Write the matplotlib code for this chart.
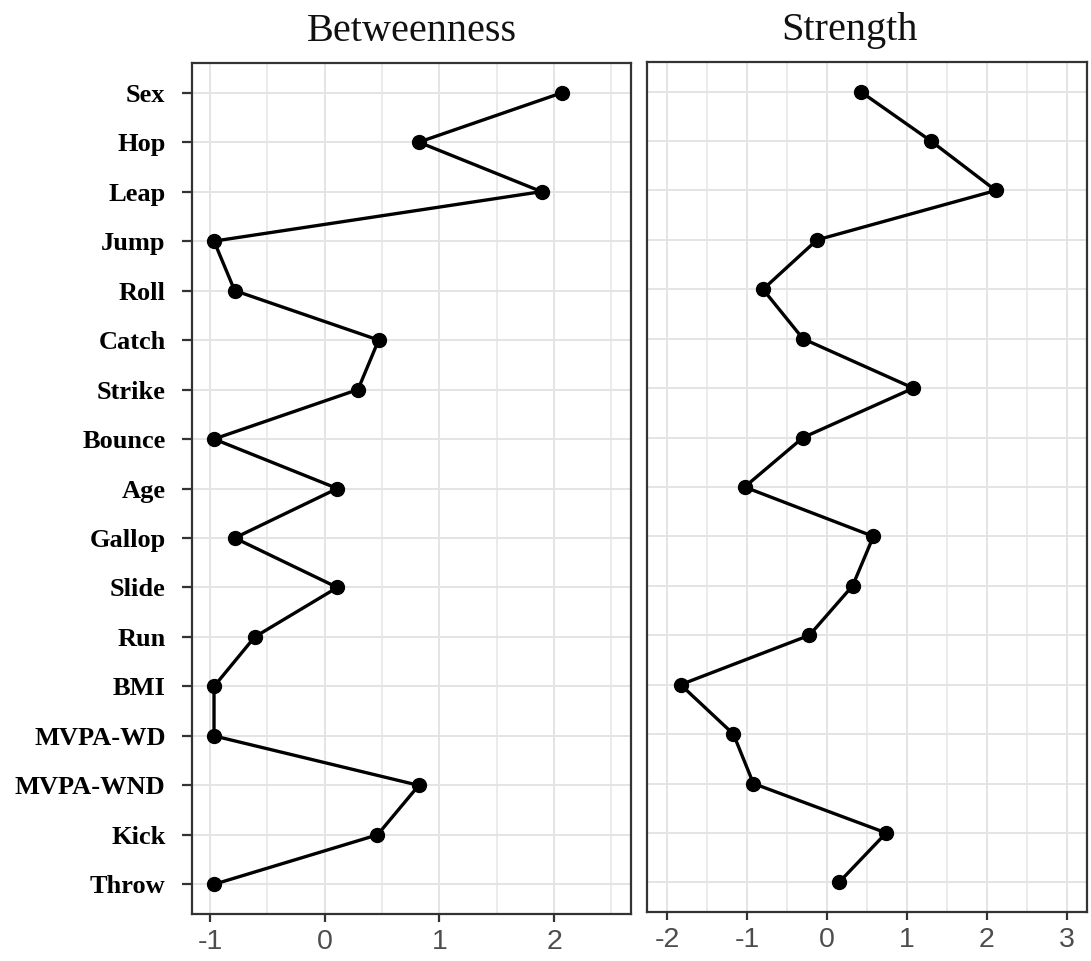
import matplotlib
matplotlib.use("Agg")
import matplotlib.pyplot as plt
from matplotlib.ticker import MultipleLocator

plt.rcParams["axes.unicode_minus"] = False

categories = ["Sex", "Hop", "Leap", "Jump", "Roll", "Catch", "Strike", "Bounce",
              "Age", "Gallop", "Slide", "Run", "BMI", "MVPA-WD", "MVPA-WND",
              "Kick", "Throw"]
betweenness = [2.07, 0.82, 1.89, -0.965, -0.785, 0.47, 0.29, -0.965, 0.11,
               -0.785, 0.11, -0.61, -0.965, -0.965, 0.82, 0.46, -0.965]
strength = [0.42, 1.30, 2.11, -0.125, -0.80, -0.30, 1.08, -0.30, -1.03,
            0.58, 0.32, -0.22, -1.83, -1.17, -0.92, 0.74, 0.15]
titles = ["Betweenness", "Strength"]
xticks_left = [-1, 0, 1, 2]
xticks_right = [-2, -1, 0, 1, 2, 3]

W, H = 1091, 961
fig = plt.figure(figsize=(W / 100, H / 100), dpi=100)

def frac(x0, y0, x1, y1):
    return [x0 / W, 1 - y1 / H, (x1 - x0) / W, (y1 - y0) / H]

ax1 = fig.add_axes(frac(192, 63, 631, 914))
ax2 = fig.add_axes(frac(647, 62, 1087, 912))

n = len(categories)
ypos = list(range(n, 0, -1))

panels = [
    (ax1, betweenness, titles[0], xticks_left, (-1.157, 2.67), True, 0.5),
    (ax2, strength, titles[1], xticks_right, (-2.25, 3.25), False, 0.459),
]

for ax, vals, title, xt, xl, show_y, tx in panels:
    ax.set_facecolor("white")
    ax.plot(vals, ypos, color="black", linewidth=2.4, marker="o",
            markersize=10, zorder=3)
    ax.set_xlim(*xl)
    ax.set_ylim(0.4, n + 0.6)
    ax.set_xticks(xt)
    ax.xaxis.set_minor_locator(MultipleLocator(0.5))
    ax.set_yticks(ypos)
    ax.grid(True, which="major", color="#e4e4e4", linewidth=1.4, zorder=0)
    ax.grid(True, which="minor", axis="x", color="#e8e8e8", linewidth=1.2, zorder=0)
    ax.set_axisbelow(True)
    for s in ax.spines.values():
        s.set_color("#333333")
        s.set_linewidth(1.6)
    ax.tick_params(axis="x", which="major", length=6, width=1.6, color="#333333",
                   labelsize=20.5, labelcolor="#4d4d4d", pad=5)
    ax.tick_params(axis="x", which="minor", length=0)
    for lab in ax.get_xticklabels():
        lab.set_fontfamily("Liberation Sans")
    if show_y:
        ax.set_yticklabels(categories)
        ax.tick_params(axis="y", length=7, width=1.6, color="#333333", pad=12)
        for lab in ax.get_yticklabels():
            lab.set_fontfamily("Liberation Serif")
            lab.set_fontweight("bold")
            lab.set_fontsize(19)
            lab.set_color("black")
    else:
        ax.tick_params(axis="y", length=0, labelleft=False)
    t = ax.set_title(title, fontfamily="Liberation Serif", fontsize=29, pad=15.5,
                     color="#111111")
    t.set_x(tx)

fig.savefig("out.png", dpi=100, facecolor="white")
